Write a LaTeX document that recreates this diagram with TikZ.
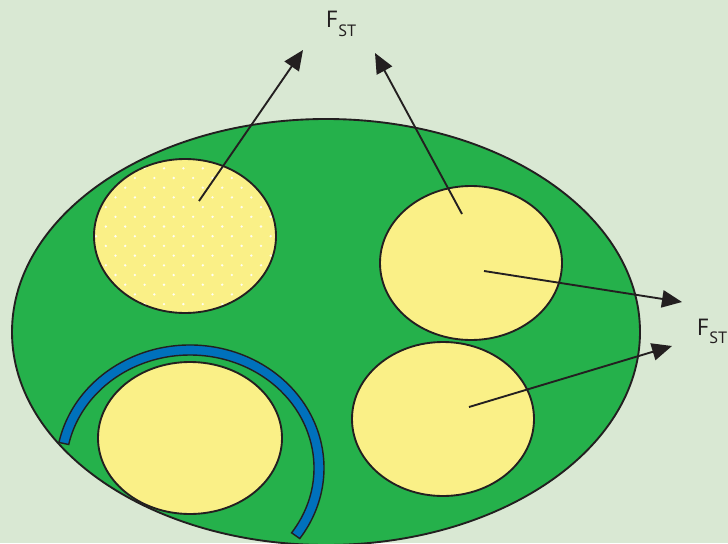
\documentclass[tikz,border=0pt]{standalone}
\usepackage{fontspec}
\setmainfont{PT Sans}
\usetikzlibrary{arrows.meta,shapes.geometric,calc}
\definecolor{CellBack}{RGB}{217,232,211}
\definecolor{CellGreen}{RGB}{37,177,75}
\definecolor{CellYellow}{RGB}{250,240,135}
\definecolor{CellBlue}{RGB}{0,113,188}
\definecolor{CellInk}{RGB}{35,31,32}
\tikzset{
  cell/body/.style={
    ellipse,
    draw=CellInk,
    line width=1.6pt,
    fill=CellGreen,
    inner sep=0pt,
    minimum width=188.4mm,
    minimum height=127.8mm
  },
  cell/vesicle/.style={
    ellipse,
    draw=CellInk,
    line width=1.6pt,
    fill=CellYellow,
    inner sep=0pt,
    minimum width=54.6mm,
    minimum height=46.2mm
  },
  cell/band/.style={draw=CellInk, line width=1.2pt, fill=CellBlue},
  cell/arrow/.style={-{Triangle[length=6mm,width=5.2mm]}, line width=1.6pt, draw=CellInk},
  cell/label/.style={font=\fontsize{20}{20}\selectfont, text=CellInk, inner sep=0pt, anchor=base west}
}
\newcommand{\fst}{F\raisebox{-0.35em}{\fontsize{14}{14}\selectfont ST}}

\begin{document}
\begin{tikzpicture}[x=0.3mm,y=-0.3mm]
  \useasboundingbox (0,0) rectangle (728,543);
  \clip (0,0) rectangle (728,543);
  \fill[CellBack] (0,0) rectangle (728,543);
  \node[cell/body] (cell) at (326,332) {};
  \node[cell/vesicle] (dotted) at (185,236) {};
  \node[cell/vesicle] (upper) at (471,263) {};
  \node[cell/vesicle] (lower) at (443,419) {};
  \node[cell/vesicle,minimum width=55.2mm,minimum height=45.6mm] (wrapped) at (190,438) {};
  \begin{scope}
    \clip (dotted.center) ellipse [x radius=90, y radius=76];
    \foreach \j in {-1,...,15}{
      \pgfmathsetmacro\off{mod(\j,2)*9.7}
      \foreach \i in {0,...,10}
        \fill[white,opacity=0.9] (86.4+\off+19.4*\i, 168.3+9.7*\j) circle[radius=1.3];
    }
  \end{scope}
  \coordinate (arccenter) at (190,468);
  \draw[cell/band] ($(arccenter)+(192:134 and 123)$)
    arc[start angle=192, end angle=395, x radius=134, y radius=123]
    -- ($(arccenter)+(395:124 and 113)$)
    arc[start angle=395, end angle=192, x radius=124, y radius=113] -- cycle;
  \coordinate (dottedfoot) at (199,201);
  \coordinate (upperfoot) at (462,214);
  \coordinate (upperside) at (484,271);
  \coordinate (lowerfoot) at (469,407);
  \coordinate (tipone) at (303,50);
  \coordinate (tiptwo) at (375,53);
  \coordinate (tipthree) at (682,302);
  \coordinate (tipfour) at (672,346);
  \draw[cell/arrow] (dottedfoot) -- (tipone);
  \draw[cell/arrow] (upperfoot) -- (tiptwo);
  \draw[cell/arrow] (upperside) -- (tipthree);
  \draw[cell/arrow] (lowerfoot) -- (tipfour);
  \node[cell/label] (fsttop) at (326,28) {\fst};
  \node[cell/label] (fstright) at (697,335) {\fst};
\end{tikzpicture}
\end{document}
